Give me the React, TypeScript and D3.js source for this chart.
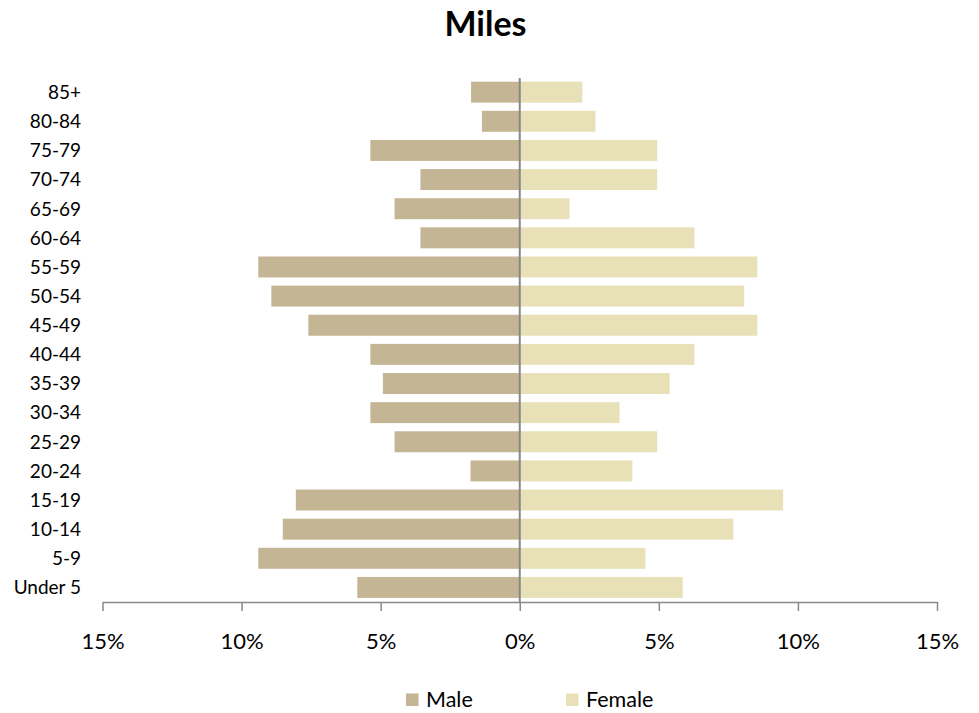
import * as d3 from 'd3';
import React, { useEffect, useRef } from 'react';

const ageGroups = ['Under 5', '5-9', '10-14', '15-19', '20-24', '25-29', '30-34', '35-39', '40-44',
    '45-49', '50-54', '55-59', '60-64', '65-69', '70-74', '75-79', '80-84', '85+'];
const maleValues = [5.84, 9.40, 8.52, 8.05, 1.77, 4.50, 5.37, 4.92, 5.37,
    7.60, 8.93, 9.40, 3.57, 4.50, 3.57, 5.37, 1.36, 1.75];
const femaleValues = [5.86, 4.52, 7.68, 9.47, 4.05, 4.94, 3.59, 5.39, 6.28,
    8.54, 8.07, 8.54, 6.28, 1.79, 4.94, 4.94, 2.72, 2.25];
const xTicks = [-15, -10, -5, 0, 5, 10, 15];
const seriesNames = ['Male', 'Female'];

const App: React.FC = () => {
    const svgRef = useRef<SVGSVGElement | null>(null);

    useEffect(() => {
        const width = 979;
        const height = 713;
        const margin = { top: 77.6, right: 42, bottom: 111, left: 102.5 };
        const font = 'Lato, "Noto Sans", sans-serif';
        const colors = ['#C4B694', '#E8E1B8'];

        d3.select(svgRef.current).selectAll('*').remove();

        const svg = d3.select(svgRef.current)
            .attr('width', width)
            .attr('height', height)
            .style('font-family', font);

        const x = d3.scaleLinear().domain([-15, 15]).range([margin.left, width - margin.right]);
        const y = d3.scaleBand()
            .domain([...ageGroups].reverse())
            .range([margin.top, height - margin.bottom])
            .paddingInner(0.28)
            .paddingOuter(0.14);

        // Title
        svg.append('text')
            .attr('x', 485.5)
            .attr('y', 36)
            .attr('text-anchor', 'middle')
            .style('font-size', '34px')
            .style('font-weight', 'bold')
            .attr('fill', '#000')
            .text('Miles');

        // Male bars (left)
        svg.append('g').selectAll('rect')
            .data(ageGroups)
            .enter()
            .append('rect')
            .attr('x', (d, i) => x(-maleValues[i]))
            .attr('y', d => y(d)!)
            .attr('width', (d, i) => x(0) - x(-maleValues[i]))
            .attr('height', y.bandwidth())
            .attr('fill', colors[0]);

        // Female bars (right)
        svg.append('g').selectAll('rect')
            .data(ageGroups)
            .enter()
            .append('rect')
            .attr('x', x(0))
            .attr('y', d => y(d)!)
            .attr('width', (d, i) => x(femaleValues[i]) - x(0))
            .attr('height', y.bandwidth())
            .attr('fill', colors[1]);

        // Category labels
        svg.append('g').selectAll('text')
            .data(ageGroups)
            .enter()
            .append('text')
            .attr('x', 81)
            .attr('y', d => y(d)! + y.bandwidth() / 2)
            .attr('dy', '0.36em')
            .attr('text-anchor', 'end')
            .attr('fill', '#000')
            .style('font-size', '19px')
            .text(d => d);

        // Center line
        svg.append('line')
            .attr('x1', x(0))
            .attr('x2', x(0))
            .attr('y1', 78)
            .attr('y2', height - margin.bottom)
            .attr('stroke', '#878787')
            .attr('stroke-width', 2);

        // Bottom axis
        const axis = svg.append('g')
            .attr('transform', `translate(0,${height - margin.bottom})`)
            .call(d3.axisBottom(x)
                .tickValues(xTicks)
                .tickSize(9)
                .tickSizeOuter(0)
                .tickFormat(d => `${Math.abs(+d)}%`));

        axis.select('.domain').attr('stroke', '#898989').attr('stroke-width', 1.5);
        axis.selectAll('.tick line').attr('stroke', '#898989').attr('stroke-width', 1.5);
        axis.selectAll('.tick text')
            .attr('y', 47)
            .attr('dy', 0)
            .attr('fill', '#000')
            .style('font-family', font)
            .style('font-size', '22px');

        // Legend
        const legendX = [406, 566];
        const legend = svg.append('g').selectAll('g')
            .data(seriesNames)
            .enter()
            .append('g')
            .attr('transform', (d, i) => `translate(${legendX[i]},693.5)`);

        legend.append('rect')
            .attr('width', 12.5)
            .attr('height', 12.5)
            .attr('fill', (d, i) => colors[i]);

        legend.append('text')
            .attr('x', 20)
            .attr('y', 13)
            .attr('fill', '#000')
            .style('font-size', '21.5px')
            .text(d => d);
    }, []);

    return (
        <div style={{ position: 'absolute', left: 0, top: 0 }}>
            <svg ref={svgRef}></svg>
        </div>
    );
};

export default App;
